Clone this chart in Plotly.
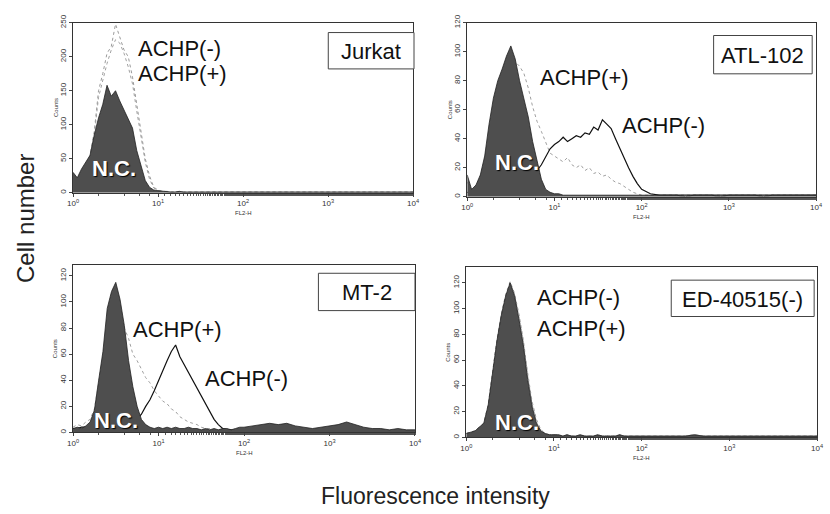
import plotly.graph_objects as go

# ---------------- data ----------------
EXPONENTS = [0.00,0.05,0.10,0.15,0.20,0.25,0.30,0.35,0.40,0.45,0.50,0.55,0.60,0.65,0.70,0.75,0.80,0.85,0.90,0.95,
             1.00,1.05,1.10,1.15,1.20,1.25,1.30,1.35,1.40,1.45,1.50,1.55,1.60,1.65,1.70,1.75,1.80,1.85,1.90,1.95,2.00,
             2.1,2.2,2.3,2.4,2.5,2.6,2.7,2.8,2.9,3.0,3.1,3.2,3.3,3.4,3.5,3.6,3.7,3.8,3.9,4.0]
FL2 = [10 ** e for e in EXPONENTS]

panels = ["Jurkat", "ATL-102", "MT-2", "ED-40515(-)"]

jurkat_nc = [30,22,35,45,55,85,110,130,158,142,150,135,122,110,95,62,40,18,8,4,
             3,2,2,1,1,2,1,1,2,1,1,1,2,1,1,1,1,2,1,1,1,
             1,1,2,1,1,1,1,2,1,1,1,1,1,2,1,1,1,1,1,1]
jurkat_minus = [25,20,30,40,55,90,150,175,205,215,248,230,210,200,170,130,90,50,25,8,
                4,2,2,1,1,1,1,2,1,1,1,1,1,1,2,1,1,1,1,1,1,
                1,1,1,1,1,1,1,1,1,1,1,1,1,1,1,1,1,1,1,1]
jurkat_plus = [22,18,28,38,52,85,140,165,190,210,225,220,205,185,160,120,80,45,20,7,
               3,2,1,1,1,1,1,1,1,1,1,1,1,1,1,1,1,1,1,1,1,
               1,1,1,1,1,1,1,1,1,1,1,1,1,1,1,1,1,1,1,1]

atl_nc = [15,5,8,15,28,50,68,80,88,97,104,95,80,68,55,38,25,12,5,3,
          2,2,1,1,1,1,1,1,1,1,1,1,1,1,1,1,1,1,1,1,1,
          1,1,1,1,0,1,1,1,0,1,1,1,1,0,1,1,1,1,1,1]
atl_plus = [10,5,7,14,26,45,62,75,85,92,98,93,90,85,75,62,52,45,38,30,
            28,26,24,27,22,20,22,18,20,16,17,14,15,12,10,9,7,5,3,2,1,
            1,1,1,1,1,1,1,1,1,1,1,1,1,1,1,1,1,1,1,1]
atl_minus = [3,2,3,4,5,6,7,8,9,10,11,12,12,13,14,16,18,22,27,33,
             36,38,41,38,40,42,41,44,43,48,46,53,50,47,40,33,26,20,14,9,5,
             2,1,1,1,1,1,1,1,1,1,1,1,1,1,1,1,1,1,1,1]

mt2_nc = [3,4,3,5,8,17,40,62,95,108,115,102,82,55,35,20,10,6,4,3,
          4,3,4,3,4,3,3,4,3,3,2,3,2,3,2,3,3,2,3,4,4,
          5,6,7,6,7,5,4,3,4,5,6,8,6,4,3,3,2,3,2,2]
mt2_plus = [4,6,5,8,10,18,38,58,85,92,95,88,80,72,60,55,48,42,38,32,
            28,24,22,18,16,12,10,8,7,6,4,3,3,2,2,1,1,1,1,1,1,
            1,1,1,1,1,1,1,1,1,1,1,1,1,1,1,1,1,1,1,1]
mt2_minus = [3,3,4,4,5,5,6,6,6,7,7,7,8,8,8,10,14,20,25,32,
             40,48,55,62,67,58,52,46,40,34,27,22,16,10,6,3,2,2,1,1,1,
             1,1,1,1,1,1,1,1,1,1,1,1,1,1,1,1,1,1,1,1]

ed_nc = [3,4,5,8,11,25,50,75,95,110,120,110,92,72,45,24,11,5,3,2,
         2,2,1,2,1,1,2,1,1,1,2,1,1,1,1,2,1,1,1,1,1,
         1,1,1,1,1,2,1,1,1,1,1,1,1,1,1,1,1,1,1,1]
ed_minus = [3,4,5,8,11,25,50,76,96,111,121,112,96,76,50,28,14,6,3,2,
            2,2,1,2,1,1,2,1,1,1,2,1,1,1,1,2,1,1,1,1,1,
            1,1,1,1,1,2,1,1,1,1,1,1,1,1,1,1,1,1,1,1]
ed_plus = [3,4,5,8,11,25,50,75,95,110,120,111,94,74,48,26,12,5,3,2,
           2,2,1,2,1,1,2,1,1,1,2,1,1,1,1,2,1,1,1,1,1,
           1,1,1,1,1,2,1,1,1,1,1,1,1,1,1,1,1,1,1,1]

series = {
    "Jurkat": (jurkat_nc, jurkat_plus, jurkat_minus),
    "ATL-102": (atl_nc, atl_plus, atl_minus),
    "MT-2": (mt2_nc, mt2_plus, mt2_minus),
    "ED-40515(-)": (ed_nc, ed_plus, ed_minus),
}
y_max = {"Jurkat": 250, "ATL-102": 120, "MT-2": 128, "ED-40515(-)": 132}
y_step = {"Jurkat": 50, "ATL-102": 20, "MT-2": 20, "ED-40515(-)": 20}
x_tickvals = [1, 10, 100, 1000, 10000]
x_ticktext = ["10<sup>0</sup>", "10<sup>1</sup>", "10<sup>2</sup>", "10<sup>3</sup>", "10<sup>4</sup>"]

# ---------------- layout helpers ----------------
W, H = 830, 514
def px(x): return x / W
def py(y): return 1 - y / H

# pixel boxes of the four plot areas (left, top, right, bottom)
boxes = {
    "Jurkat": (68, 15, 413, 188),
    "ATL-102": (468, 15, 822, 192),
    "MT-2": (68, 262, 415, 432),
    "ED-40515(-)": (467, 264, 823, 437),
}
minus_style = {"Jurkat": dict(color="#9a9a9a", width=1, dash="dot"),
               "ATL-102": dict(color="#111", width=1.2),
               "MT-2": dict(color="#111", width=1.2),
               "ED-40515(-)": dict(color="#999", width=1, dash="dot")}
plus_style = dict(color="#a0a0a0", width=1, dash="dot")

FONT = "Liberation Sans, Arial, sans-serif"
fig = go.Figure()
layout = dict(width=W, height=H, margin=dict(l=0, r=0, t=0, b=0),
              paper_bgcolor="white", plot_bgcolor="white", showlegend=False,
              font=dict(family=FONT, color="#111"))
annotations = []
shapes = []

def note(x, y, text, size, color="#111", xanchor="center", angle=0, **kw):
    annotations.append(dict(x=px(x), y=py(y), xref="paper", yref="paper", text=text, showarrow=False,
                            xanchor=xanchor, yanchor="middle", textangle=angle,
                            font=dict(size=size, color=color, family=FONT, **kw)))

for i, name in enumerate(panels, start=1):
    xa = "x" if i == 1 else f"x{i}"
    ya = "y" if i == 1 else f"y{i}"
    nc, plus, minus = series[name]
    fig.add_trace(go.Scatter(x=FL2, y=plus, mode="lines", line=plus_style, xaxis=xa, yaxis=ya))
    fig.add_trace(go.Scatter(x=FL2, y=minus, mode="lines", line=minus_style[name], xaxis=xa, yaxis=ya))
    fig.add_trace(go.Scatter(x=FL2, y=nc, mode="lines", fill="tozeroy", fillcolor="#4e4e4e",
                             line=dict(color="#222", width=0.8), xaxis=xa, yaxis=ya))
    l, t, r, b = boxes[name]
    key = "" if i == 1 else str(i)
    layout["xaxis" + key] = dict(domain=[px(l), px(r)], anchor=ya, type="log", range=[0, 4],
                                 tickvals=x_tickvals, ticktext=x_ticktext, ticks="outside", ticklen=3,
                                 tickfont=dict(size=8, color="#333"), showgrid=False, zeroline=False,
                                 showline=True, mirror=True, linecolor="#333", linewidth=1,
                                 minor=dict(ticks="outside", ticklen=2, tickcolor="#555"))
    layout["yaxis" + key] = dict(domain=[py(b), py(t)], anchor=xa, range=[0, y_max[name]],
                                 dtick=y_step[name], tickangle=-90, ticks="outside", ticklen=3,
                                 tickfont=dict(size=8, color="#333"), showgrid=False, zeroline=False,
                                 showline=True, mirror=True, linecolor="#333", linewidth=1)
    # small axis captions
    note(l - 18, (t + b) / 2, "Counts", 6, "#333", angle=-90)
    note(l + (r - l) * 0.5, b + 21, "FL2-H", 6, "#333")

# cell-line boxes (left, top, right, bottom)
cell_boxes = {"Jurkat": (327, 25, 414, 62), "ATL-102": (718, 28, 818, 67),
              "MT-2": (317, 270, 415, 308), "ED-40515(-)": (675, 277, 820, 314)}
for name, (l, t, r, b) in cell_boxes.items():
    shapes.append(dict(type="rect", xref="paper", yref="paper", x0=px(l), x1=px(r), y0=py(b), y1=py(t),
                       line=dict(color="#444", width=1), fillcolor="white"))
    note((l + r) / 2, (t + b) / 2 + 1, name, 22)

# curve labels (text, x_left, y_center)
labels = [("ACHP(-)", 132, 41), ("ACHP(+)", 132, 67),
          ("ACHP(+)", 540, 71), ("ACHP(-)", 623, 120),
          ("ACHP(+)", 127, 327), ("ACHP(-)", 200, 377),
          ("ACHP(-)", 537, 295), ("ACHP(+)", 537, 326)]
for txt, x, y in labels:
    note(x, y, txt, 22, xanchor="left")

# N.C. labels
for x, y in [(110, 163), (519, 157), (112, 420), (518, 422)]:
    note(x, y, "<b>N.C.</b>", 22, "white", shadow="1px 1px 1px #000")

# global axis titles
note(20, 214, "Cell number", 24, "#222", angle=-90)
note(436, 497, "Fluorescence intensity", 23, "#222")

layout["annotations"] = annotations
layout["shapes"] = shapes
fig.update_layout(**layout)
fig.write_html("out.html")
